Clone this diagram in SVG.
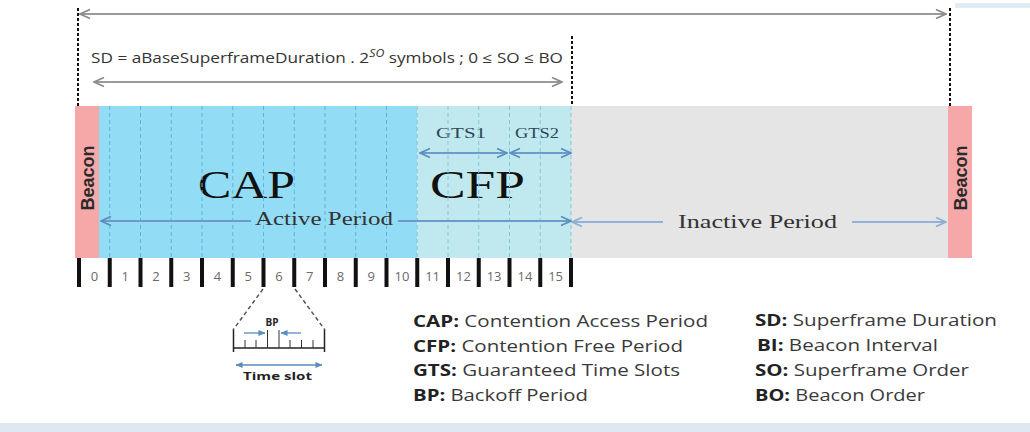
<svg xmlns="http://www.w3.org/2000/svg" width="1030" height="432" viewBox="0 0 1030 432">
<style>
  .sans { font-family: "Open Sans", "Liberation Sans", sans-serif; }
  .serif { font-family: "Liberation Serif", "DejaVu Serif", serif; }
  .legend { font-family: "Open Sans", "Liberation Sans", sans-serif; font-size: 16px; fill: #3a3a3a; }
  .legend .k { font-weight: bold; fill: #222; }
  .num { font-family: "Open Sans", "Liberation Sans", sans-serif; font-size: 13px; fill: #6a6a6a; text-anchor: middle; }
  .tick { fill: #111; }
  .vdash { stroke: #111; stroke-width: 2; stroke-dasharray: 3 2; fill: none; }
  .slotdash { stroke: #5fb6dc; stroke-width: 1; stroke-dasharray: 4 3; fill: none; }
  .slotdash2 { stroke: #8cc3d3; stroke-width: 1; stroke-dasharray: 4 3; fill: none; }
  .garrow { stroke: #9a9a9a; stroke-width: 2; fill: none; }
  .barrow { stroke: #6b9bcb; stroke-width: 2; fill: none; }
  .larrow { stroke: #93b2d8; stroke-width: 2; fill: none; }
  .beacon { fill: #f6a7a7; }
  .btext { font-family: "Liberation Sans", "Open Sans", sans-serif; font-weight: bold; font-size: 18px; fill: #2a2a2a; text-anchor: middle; }
</style>
<defs>
  <marker id="ahg" viewBox="0 0 12 12" refX="11" refY="6" markerWidth="12" markerHeight="12" markerUnits="userSpaceOnUse" orient="auto-start-reverse">
    <path d="M1,1.5 L11,6 L1,10.5" fill="none" stroke="#8a8a8a" stroke-width="1.6"/>
  </marker>
  <marker id="ahb" viewBox="0 0 12 12" refX="11" refY="6" markerWidth="12" markerHeight="12" markerUnits="userSpaceOnUse" orient="auto-start-reverse">
    <path d="M1,1.5 L11,6 L1,10.5" fill="none" stroke="#5b8cbf" stroke-width="1.8"/>
  </marker>
  <marker id="ahl" viewBox="0 0 12 12" refX="11" refY="6" markerWidth="12" markerHeight="12" markerUnits="userSpaceOnUse" orient="auto-start-reverse">
    <path d="M1,1.5 L11,6 L1,10.5" fill="none" stroke="#8eaed6" stroke-width="1.8"/>
  </marker>
  <marker id="ahs" viewBox="0 0 8 8" refX="7.5" refY="4" markerWidth="7" markerHeight="7" markerUnits="userSpaceOnUse" orient="auto-start-reverse">
    <path d="M0,0.5 L8,4 L0,7.5 Z" fill="#5b8cbf"/>
  </marker>
</defs>

<rect x="0" y="0" width="1030" height="432" fill="#ffffff"/>
<rect x="955" y="3" width="75" height="5" fill="#e2eaf4"/>
<rect x="0" y="423" width="1030" height="9" fill="#dfe7f2"/>

<!-- Bar regions -->
<g id="cap">
  <rect x="99" y="106" width="318.25" height="152" fill="#93dcf6"/>
  <text class="serif" x="198" y="198" font-size="40" fill="#111" textLength="97" lengthAdjust="spacingAndGlyphs">CAP</text>
</g>
<g id="cfp">
  <rect x="417.25" y="106" width="153.75" height="152" fill="#c0e9ef"/>
  <text class="serif" x="430" y="198" font-size="40" fill="#111" textLength="95" lengthAdjust="spacingAndGlyphs">CFP</text>
  <text class="serif" x="436" y="138" font-size="14" fill="#2d4656" textLength="50" lengthAdjust="spacingAndGlyphs">GTS1</text>
  <text class="serif" x="515" y="138" font-size="14" fill="#2d4656" textLength="44" lengthAdjust="spacingAndGlyphs">GTS2</text>
</g>
<g id="inactive">
  <rect x="571" y="106" width="377" height="152" fill="#e5e5e5"/>
  <text class="serif" x="678" y="228" font-size="19" fill="#333" textLength="159" lengthAdjust="spacingAndGlyphs">Inactive Period</text>
</g>
<g id="slot-dashes">
  <line class="slotdash" x1="109.75" y1="106" x2="109.75" y2="258"/>
  <line class="slotdash" x1="140.5" y1="106" x2="140.5" y2="258"/>
  <line class="slotdash" x1="171.25" y1="106" x2="171.25" y2="258"/>
  <line class="slotdash" x1="202" y1="106" x2="202" y2="258"/>
  <line class="slotdash" x1="232.75" y1="106" x2="232.75" y2="258"/>
  <line class="slotdash" x1="263.5" y1="106" x2="263.5" y2="258"/>
  <line class="slotdash" x1="294.25" y1="106" x2="294.25" y2="258"/>
  <line class="slotdash" x1="325" y1="106" x2="325" y2="258"/>
  <line class="slotdash" x1="355.75" y1="106" x2="355.75" y2="258"/>
  <line class="slotdash" x1="386.5" y1="106" x2="386.5" y2="258"/>
  <line class="slotdash2" x1="417.25" y1="106" x2="417.25" y2="258"/>
  <line class="slotdash2" x1="448" y1="106" x2="448" y2="258"/>
  <line class="slotdash2" x1="478.75" y1="106" x2="478.75" y2="258"/>
  <line class="slotdash2" x1="509.5" y1="106" x2="509.5" y2="258"/>
  <line class="slotdash2" x1="540.25" y1="106" x2="540.25" y2="258"/>
  <line class="slotdash2" x1="571" y1="106" x2="571" y2="258"/>
</g>
<g id="beacon-left">
  <rect class="beacon" x="75" y="106" width="24" height="152"/>
  <text class="btext" transform="translate(93.5,178) rotate(-90)">Beacon</text>
</g>
<g id="beacon-right">
  <rect class="beacon" x="948" y="106" width="24" height="152"/>
  <text class="btext" transform="translate(966.5,178) rotate(-90)">Beacon</text>
</g>
<g id="active-label">
  <text class="serif" x="255" y="225" font-size="19" fill="#333" textLength="138" lengthAdjust="spacingAndGlyphs">Active Period</text>
</g>

<!-- Header labels -->
<g id="sd-label">
  <text class="sans" x="91" y="63" font-size="14" fill="#333" textLength="472" lengthAdjust="spacingAndGlyphs">SD = aBaseSuperframeDuration . 2<tspan font-size="10" font-style="italic" dy="-6">SO</tspan><tspan dy="6"> symbols ; 0 ≤ SO ≤ BO</tspan></text>
</g>

<!-- Connectors -->
<g id="connectors">
  <line class="vdash" x1="78" y1="8" x2="78" y2="106"/>
  <line class="vdash" x1="950" y1="8" x2="950" y2="106"/>
  <line class="vdash" x1="572" y1="36" x2="572" y2="106"/>
  <line class="garrow" x1="80" y1="14" x2="946" y2="14" marker-start="url(#ahg)" marker-end="url(#ahg)"/>
  <line class="garrow" x1="94" y1="82" x2="562" y2="82" marker-start="url(#ahg)" marker-end="url(#ahg)"/>
  <line class="barrow" x1="420" y1="153" x2="507" y2="153" marker-start="url(#ahb)" marker-end="url(#ahb)"/>
  <line class="barrow" x1="510" y1="153" x2="571" y2="153" marker-start="url(#ahb)" marker-end="url(#ahb)"/>
  <line class="barrow" x1="101" y1="221" x2="251" y2="221" marker-start="url(#ahb)"/>
  <line class="barrow" x1="398" y1="221" x2="571" y2="221" marker-end="url(#ahb)"/>
  <line class="larrow" x1="572" y1="222" x2="663" y2="222" marker-start="url(#ahl)"/>
  <line class="larrow" x1="852" y1="222" x2="946" y2="222" marker-end="url(#ahl)"/>
  <line stroke="#555" stroke-width="1.5" stroke-dasharray="4 3" x1="263" y1="289" x2="233" y2="330"/>
  <line stroke="#555" stroke-width="1.5" stroke-dasharray="4 3" x1="295" y1="289" x2="325" y2="330"/>
</g>

<!-- Slot ruler -->
<g id="slots">
  <rect class="tick" x="77" y="258" width="4" height="29"/>
  <rect class="tick" x="107.75" y="258" width="4" height="29"/>
  <rect class="tick" x="138.5" y="258" width="4" height="29"/>
  <rect class="tick" x="169.25" y="258" width="4" height="29"/>
  <rect class="tick" x="200" y="258" width="4" height="29"/>
  <rect class="tick" x="230.75" y="258" width="4" height="29"/>
  <rect class="tick" x="261.5" y="258" width="4" height="29"/>
  <rect class="tick" x="292.25" y="258" width="4" height="29"/>
  <rect class="tick" x="323" y="258" width="4" height="29"/>
  <rect class="tick" x="353.75" y="258" width="4" height="29"/>
  <rect class="tick" x="384.5" y="258" width="4" height="29"/>
  <rect class="tick" x="415.25" y="258" width="4" height="29"/>
  <rect class="tick" x="446" y="258" width="4" height="29"/>
  <rect class="tick" x="476.75" y="258" width="4" height="29"/>
  <rect class="tick" x="507.5" y="258" width="4" height="29"/>
  <rect class="tick" x="538.25" y="258" width="4" height="29"/>
  <rect class="tick" x="569" y="258" width="4" height="29"/>
  <text class="num" x="94.4" y="281">0</text>
  <text class="num" x="125.1" y="281">1</text>
  <text class="num" x="155.9" y="281">2</text>
  <text class="num" x="186.6" y="281">3</text>
  <text class="num" x="217.4" y="281">4</text>
  <text class="num" x="248.1" y="281">5</text>
  <text class="num" x="278.9" y="281">6</text>
  <text class="num" x="309.6" y="281">7</text>
  <text class="num" x="340.4" y="281">8</text>
  <text class="num" x="371.1" y="281">9</text>
  <text class="num" x="401.9" y="281">10</text>
  <text class="num" x="432.6" y="281">11</text>
  <text class="num" x="463.4" y="281">12</text>
  <text class="num" x="494.1" y="281">13</text>
  <text class="num" x="524.9" y="281">14</text>
  <text class="num" x="555.6" y="281">15</text>
</g>

<!-- Time slot inset -->
<g id="timeslot-inset">
  <line x1="233" y1="348" x2="325" y2="348" stroke="#222" stroke-width="1.5"/>
  <line x1="233.5" y1="330" x2="233.5" y2="352" stroke="#222" stroke-width="1.5"/>
  <line x1="324.5" y1="330" x2="324.5" y2="352" stroke="#222" stroke-width="1.5"/>
  <g stroke="#333" stroke-width="1">
    <line x1="245" y1="340" x2="245" y2="348"/>
    <line x1="256" y1="340" x2="256" y2="348"/>
    <line x1="267.5" y1="330" x2="267.5" y2="348"/>
    <line x1="279" y1="330" x2="279" y2="348"/>
    <line x1="290" y1="340" x2="290" y2="348"/>
    <line x1="301.5" y1="340" x2="301.5" y2="348"/>
    <line x1="313" y1="340" x2="313" y2="348"/>
  </g>
  <line x1="244" y1="333" x2="265" y2="333" stroke="#5b8cbf" stroke-width="1.3" marker-end="url(#ahs)"/>
  <line x1="301" y1="333" x2="281" y2="333" stroke="#5b8cbf" stroke-width="1.3" marker-end="url(#ahs)"/>
  <text class="sans" x="272" y="326" font-size="10" font-weight="bold" fill="#222" text-anchor="middle">BP</text>
  <line x1="236" y1="365" x2="322" y2="365" stroke="#5b8cbf" stroke-width="1.5" marker-start="url(#ahs)" marker-end="url(#ahs)"/>
  <text class="sans" x="243" y="380" font-size="11" font-weight="bold" fill="#222" textLength="69" lengthAdjust="spacingAndGlyphs">Time slot</text>
</g>

<!-- Legend -->
<g id="legend-left" class="legend">
  <text x="413" y="327" textLength="295" lengthAdjust="spacingAndGlyphs"><tspan class="k">CAP:</tspan> Contention Access Period</text>
  <text x="413" y="352" textLength="270" lengthAdjust="spacingAndGlyphs"><tspan class="k">CFP:</tspan> Contention Free Period</text>
  <text x="413" y="376" textLength="267" lengthAdjust="spacingAndGlyphs"><tspan class="k">GTS:</tspan> Guaranteed Time Slots</text>
  <text x="413" y="401" textLength="175" lengthAdjust="spacingAndGlyphs"><tspan class="k">BP:</tspan> Backoff Period</text>
</g>
<g id="legend-right" class="legend">
  <text x="755" y="326" textLength="242" lengthAdjust="spacingAndGlyphs"><tspan class="k">SD:</tspan> Superframe Duration</text>
  <text x="757" y="351" textLength="181" lengthAdjust="spacingAndGlyphs"><tspan class="k">BI:</tspan> Beacon Interval</text>
  <text x="755" y="376" textLength="214" lengthAdjust="spacingAndGlyphs"><tspan class="k">SO:</tspan> Superframe Order</text>
  <text x="755" y="401" textLength="170" lengthAdjust="spacingAndGlyphs"><tspan class="k">BO:</tspan> Beacon Order</text>
</g>
</svg>
